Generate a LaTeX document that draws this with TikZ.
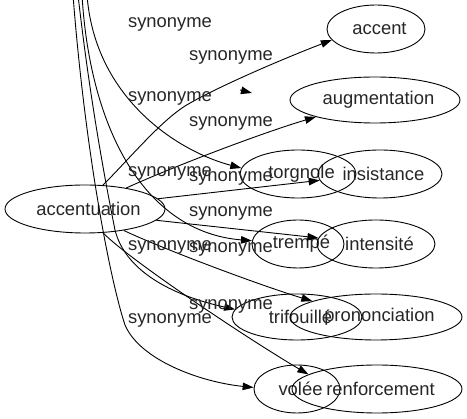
\documentclass[tikz,border=0pt]{standalone}
\usepackage{fontspec}
\setmainfont{Liberation Sans}
\usetikzlibrary{arrows.meta,shapes.geometric}
\newcommand{\wordtext}[1]{\makebox[0pt]{\hspace{7pt}#1}}
\begin{document}
\begin{tikzpicture}[x=1pt,y=-1pt,
  every node/.style={font=\fontsize{18.4}{22}\selectfont, text=black!85},
  word/.style 2 args={draw, ellipse, inner sep=0pt, line width=0.9pt,
    minimum width=#1, minimum height=#2},
  lab/.style={inner sep=0pt},
  link/.style={draw, line width=0.9pt, -{Triangle[length=11pt,width=7.5pt]}}]
\useasboundingbox (0,0) rectangle (467,419);
\clip (0,0) rectangle (467,419);
% nodes
\node[word={160pt}{48pt}] (acc) at (85,209) {\wordtext{accentuation}};
\node[word={98pt}{48pt}] (accent) at (376,29) {\wordtext{accent}};
\node[word={170pt}{46pt}] (aug) at (375,100) {\wordtext{augmentation}};
\node[word={116pt}{48pt}] (torg) at (298,174) {\wordtext{torgnole}};
\node[word={124pt}{48pt}] (ins) at (380,174) {\wordtext{insistance}};
\node[word={92pt}{48pt}] (tremp) at (298,244) {\wordtext{trempé}};
\node[word={118pt}{48pt}] (inten) at (376,244) {\wordtext{intensité}};
\node[word={130pt}{46pt}] (trif) at (297,317) {\wordtext{trifouillé}};
\node[word={172pt}{46pt}] (pron) at (376,317) {\wordtext{prononciation}};
\node[word={86pt}{48pt}] (vol) at (297,389) {\wordtext{volée}};
\node[word={170pt}{48pt}] (renf) at (377,389) {\wordtext{renforcement}};
% free ends above the picture
\coordinate (t1) at (87,-5);
\coordinate (t2) at (82,-5);
\coordinate (t3) at (78,-5);
\coordinate (t4) at (73,-5);
\coordinate (s0) at (240,90);
\coordinate (s1) at (252,93);
% edges from accentuation
\draw[link] (acc.53) .. controls (130,158) and (160,122) .. (185,106)
  .. controls (215,88) and (280,60) .. (accent.-166);
\draw[link] (acc.27) .. controls (177,165) and (265,132) .. (aug.196);
\draw[link] (acc.8) -- (ins.186);
\draw[link] (acc.-9) -- (inten.174);
\draw[link] (acc.-29) .. controls (163,249) and (262,286) .. (pron.166);
\draw[link] (acc.-53) .. controls (132,262) and (253,342) .. (renf.168);
% edges from above
\draw[link] (t1) .. controls (95,100) and (180,152) .. (torg.174);
\draw[link] (t2) .. controls (90,130) and (145,232) .. (tremp.176);
\draw[link] (t3) .. controls (90,100) and (105,180) .. (115,230)
  .. controls (125,270) and (170,295) .. (trif.173);
\draw[link] (t4) .. controls (85,150) and (110,280) .. (125,325)
  .. controls (140,360) and (200,382) .. (vol.178);
\draw[link] (s0) -- (s1);
% labels
\node[lab] (l1) at (170,24.5) {synonyme};
\node[lab] (l2) at (231,57) {synonyme};
\node[lab] (l3) at (170,98.5) {synonyme};
\node[lab] (l4) at (231,123) {synonyme};
\node[lab] (l5) at (170,173) {synonyme};
\node[lab] (l6) at (231,178.5) {synonyme};
\node[lab] (l7) at (231,213) {synonyme};
\node[lab] (l8) at (170,247) {synonyme};
\node[lab] (l9) at (231,249) {synonyme};
\node[lab] (l10) at (231,306) {synonyme};
\node[lab] (l11) at (170,320) {synonyme};
\end{tikzpicture}
\end{document}
